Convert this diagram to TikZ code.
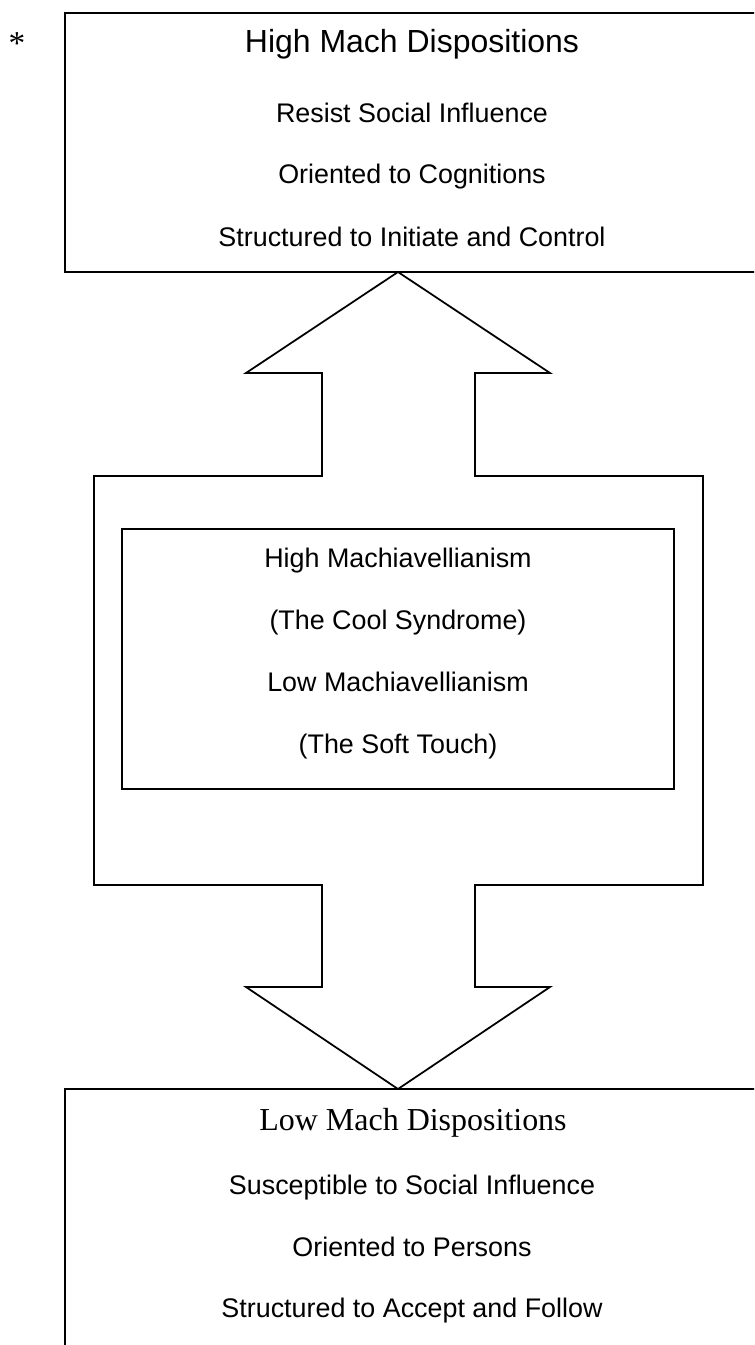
\documentclass[tikz,border=0pt]{standalone}
\usepackage{fontspec}
\setmainfont{Liberation Sans}
\newfontfamily\serifTimes{Liberation Serif}
\usetikzlibrary{positioning}

\begin{document}
\begin{tikzpicture}[x=0.02cm, y=-0.02cm,
  caixa/.style={draw=black, line width=1pt},
  linha/.style={anchor=base, inner sep=0pt, font=\fontsize{15.3pt}{18pt}\selectfont},
  titulo/.style={anchor=base, inner sep=0pt, font=\fontsize{18.2pt}{22pt}\selectfont}]
% --- AREA DA FIGURA E RECORTE ---
\useasboundingbox (0,0) rectangle (754,1345);
\clip (0,0) rectangle (754,1345);

% LAYER 1: Caixa superior (High Mach)
\draw[caixa] (65,13) rectangle (760,272);
\node[anchor=base, inner sep=0pt, font=\serifTimes\fontsize{19pt}{22pt}\selectfont] (asterisco) at (17,55) {*};
\node[titulo] (highTitulo) at (412,53) {High Mach Dispositions};
\node[linha] (highA) at (412,123) {Resist Social Influence};
\node[linha] (highB) at (412,183) {Oriented to Cognitions};
\node[linha] (highC) at (412,246) {Structured to Initiate and Control};

% LAYER 2: Seta dupla com a caixa do meio
\draw[caixa, line join=miter] (94,476) -- (322,476) -- (322,373) -- (246,373) -- (398,272)
  -- (550,373) -- (475,373) -- (475,476) -- (703,476) -- (703,885) -- (475,885)
  -- (475,987) -- (550,987) -- (398,1089) -- (246,987) -- (322,987) -- (322,885)
  -- (94,885) -- cycle;

% LAYER 3: Caixa interna
\draw[caixa] (122,529) rectangle (674,789);
\node[linha] (machA) at (398,567) {High Machiavellianism};
\node[linha] (machB) at (398,629) {(The Cool Syndrome)};
\node[linha] (machC) at (398,691) {Low Machiavellianism};
\node[linha] (machD) at (398,753) {(The Soft Touch)};

% LAYER 4: Caixa inferior (Low Mach)
\draw[caixa] (65,1089) rectangle (760,1360);
\node[titulo, font=\serifTimes\fontsize{18.2pt}{22pt}\selectfont] (lowTitulo) at (413,1130) {Low Mach Dispositions};
\node[linha] (lowA) at (412,1194) {Susceptible to Social Influence};
\node[linha] (lowB) at (412,1256) {Oriented to Persons};
\node[linha] (lowC) at (412,1317) {Structured to Accept and Follow};
\end{tikzpicture}
\end{document}
